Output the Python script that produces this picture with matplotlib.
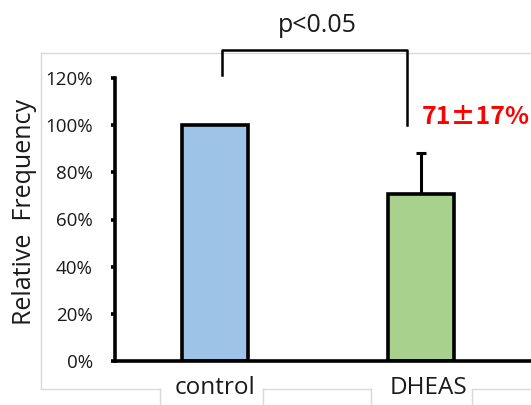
import matplotlib
matplotlib.use("Agg")
import matplotlib.pyplot as plt
from matplotlib.lines import Line2D

categories = ["control", "DHEAS"]
values = [1.00, 0.71]
errors_upper = [0.0, 0.17]
colors = ["#9dc3e6", "#a9d18e"]
yticks = [0, 0.2, 0.4, 0.6, 0.8, 1.0, 1.2]
ytick_labels = ["0%", "20%", "40%", "60%", "80%", "100%", "120%"]
annotation = "71\u00b117%"
sig_label = "p<0.05"

W, H = 531, 405
plt.rcParams['font.family'] = ['Open Sans', 'DejaVu Sans']
fig = plt.figure(figsize=(W / 100, H / 100), dpi=100)

def fx(px):
    return px / W

def fy(py):
    return 1 - py / H

# light gray chart-area frame
gray = "#d9d9d9"
frame_lines = [
    ((41, 531), (53, 53)),
    ((41, 41), (53, 389)),
    ((41, 160), (389, 389)),
    ((263, 371), (389, 389)),
    ((472, 531), (389, 389)),
    ((160, 160), (389, 405)),
    ((263, 263), (389, 405)),
    ((371, 371), (389, 405)),
    ((472, 472), (389, 405)),
]
for (x0, x1), (y0, y1) in frame_lines:
    fig.add_artist(Line2D([fx(x0), fx(x1)], [fy(y0), fy(y1)], color=gray, lw=1.0, zorder=0))

left_px, right_px, top_px, bot_px = 115, 531, 78, 361
ax = fig.add_axes([fx(left_px), fy(bot_px), fx(right_px - left_px), (bot_px - top_px) / H])
ax.patch.set_alpha(0)

x = list(range(len(categories)))
ax.bar(x, values, width=0.32, color=colors, edgecolor="black", linewidth=2.6, zorder=2)
ax.errorbar(x[1], values[1], yerr=[[0], [errors_upper[1]]], fmt="none",
            ecolor="black", elinewidth=2.2, capsize=3.5, capthick=2.2, zorder=1)

ax.set_xlim(-0.487, 1.537)
ax.set_ylim(0, 1.2)
ax.set_yticks(yticks)
ax.set_yticklabels(ytick_labels, fontsize=13.5, color="#1a1a1a")
ax.set_xticks([])
for s in ["top", "right"]:
    ax.spines[s].set_visible(False)
for s in ["left", "bottom"]:
    ax.spines[s].set_linewidth(2.6)
    ax.spines[s].set_color("black")
ax.tick_params(axis="y", direction="out", length=3, width=2.6, pad=13)

# category labels
fig.text(fx(215), fy(388), categories[0], ha="center", va="center", fontsize=17.5, color="#1a1a1a")
fig.text(fx(428), fy(388), categories[1], ha="center", va="center", fontsize=17.5, color="#1a1a1a")

# y label
fig.text(fx(25), fy(212), "Relative  Frequency", rotation=90, ha="center", va="center",
         fontsize=18, color="#1a1a1a")

# significance bracket
bx = [fx(222), fx(222), fx(407), fx(407)]
by = [fy(75), fy(50), fy(50), fy(125)]
fig.add_artist(Line2D(bx, by, color="black", lw=1.8))
fig.text(fx(317), fy(26), sig_label, ha="center", va="center", fontsize=18, color="#1a1a1a")

# red annotation
fig.text(fx(422), fy(117), annotation, ha="left", va="center", fontsize=18,
         fontweight="bold", color="#ff0000", family=['Noto Sans CJK JP', 'DejaVu Sans'])

fig.savefig("out.png", dpi=100)
